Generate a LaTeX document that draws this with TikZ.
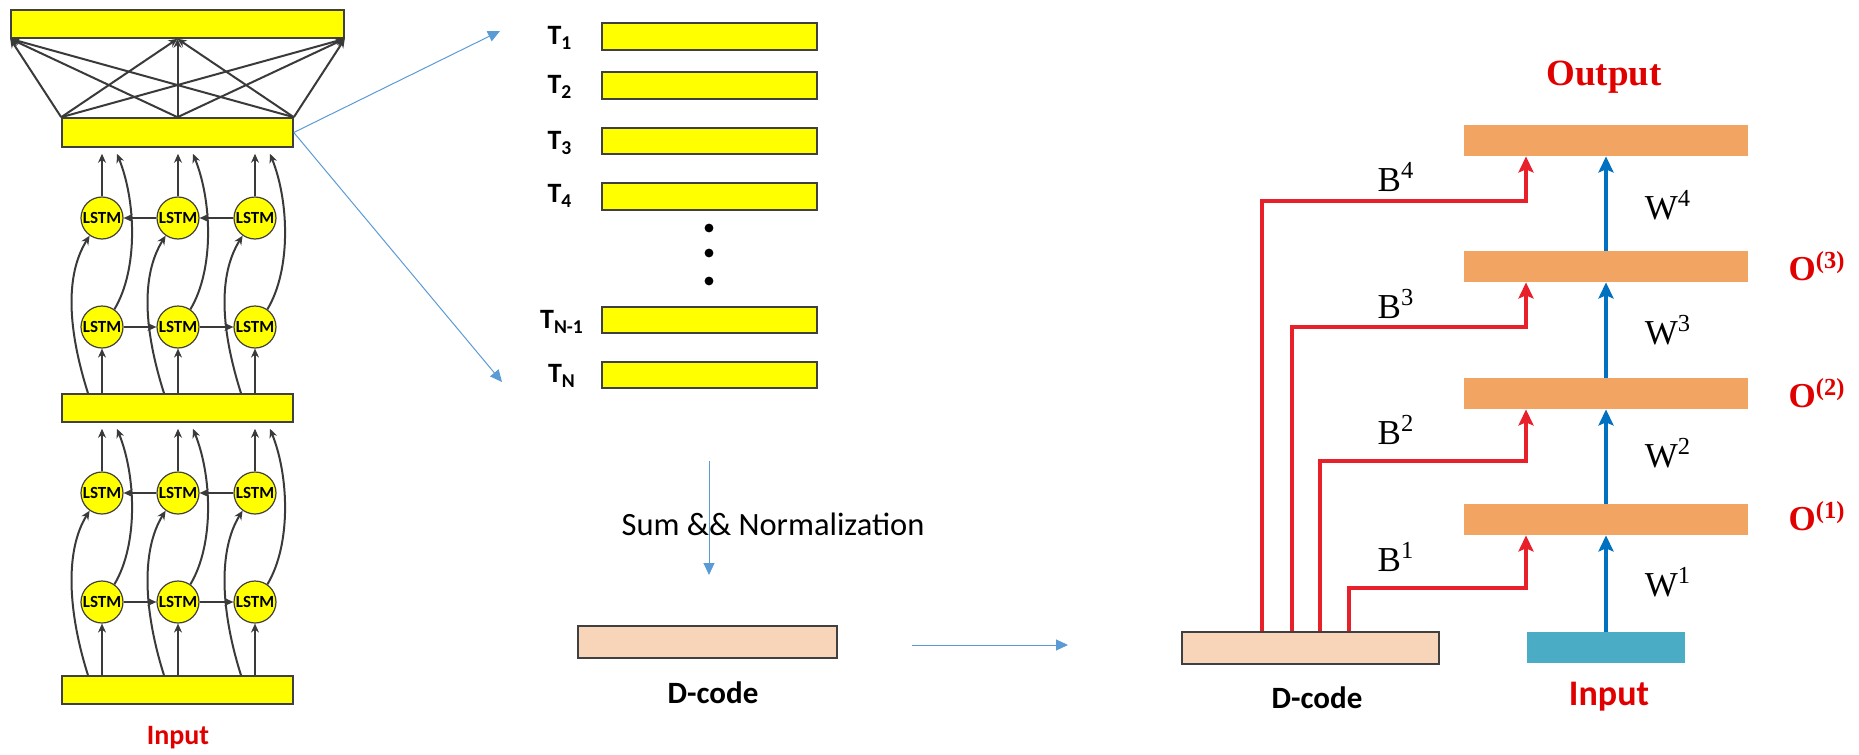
\documentclass[tikz,border=0pt]{standalone}
\usepackage{fontspec}
\setmainfont{Carlito}
\newfontfamily\tnr{Liberation Serif}
\usetikzlibrary{arrows.meta,fit,calc}
\definecolor{ybar}{HTML}{FFFF00}
\definecolor{bord}{HTML}{404040}
\definecolor{garrc}{HTML}{3A3A3A}
\definecolor{peach}{HTML}{F8D5B8}
\definecolor{orng}{HTML}{F2A463}
\definecolor{teal}{HTML}{4BACC6}
\definecolor{lblue}{HTML}{5B9BD5}
\definecolor{dblue}{HTML}{0070C0}
\definecolor{rline}{HTML}{E8202A}
\definecolor{rtext}{HTML}{E00000}
\begin{document}
\begin{tikzpicture}[x=0.5pt,y=-0.5pt,
  ybox/.style={draw=bord,line width=0.8pt,fill=ybar,inner sep=0pt},
  pbox/.style={draw=bord,line width=0.8pt,fill=peach,inner sep=0pt},
  obox/.style={fill=orng,inner sep=0pt},
  tbox/.style={fill=teal,inner sep=0pt},
  lstm/.style={circle,draw=bord,line width=0.6pt,fill=ybar,minimum size=21pt,inner sep=0pt,font=\fontsize{8.5}{8.5}\selectfont\bfseries},
  garr/.style={draw=garrc,line width=1pt,-{Stealth[length=4.5pt,width=4pt]}},
  barr/.style={draw=lblue,line width=0.5pt,-{Triangle[length=6pt,width=5.5pt]}},
  rarr/.style={draw=rline,line width=2pt,-{Stealth[length=8pt,width=7.5pt,inset=1.5pt]}},
  darr/.style={draw=dblue,line width=2pt,-{Stealth[length=8pt,width=7.5pt,inset=1.5pt]}},
  tlab/.style={font=\fontsize{14}{16}\selectfont\bfseries},
  wlab/.style={font=\fontsize{17.5}{20}\selectfont\tnr},
  olab/.style={font=\fontsize{17.5}{20}\selectfont\tnr\bfseries,text=rtext},
  dlab/.style={font=\fontsize{15.5}{18}\selectfont\bfseries}]
\useasboundingbox (0,0) rectangle (1859,755);

% ---------------- left network ----------------
\node[ybox,fit={(11,10)(344,38)}] (top) {};
\node[ybox,fit={(62,118)(293,147)}] (b2) {};
\node[ybox,fit={(62,394)(293,422)}] (b3) {};
\node[ybox,fit={(62,676)(293,704)}] (b4) {};

\foreach \r/\y in {1/218,2/327,3/493,4/602}{
  \foreach \c/\x in {1/102,2/178,3/255}{
    \node[lstm] (L\r\c) at (\x,\y) {LSTM};
  }
}

\foreach \a in {north west,north,north east}{
  \foreach \b in {south west,south,south east}{
    \draw[garr] (b2.\a) -- (top.\b);
  }
}

\foreach \lo/\up/\bl/\bh in {2/1/b3/b2,4/3/b4/b3}{
  \foreach \c in {1,2,3}{
    \draw[garr] (L\lo\c |- \bl.north) -- (L\lo\c.south);
    \draw[garr] (L\up\c.north) -- ($(L\up\c |- \bh.south)+(0,-3pt)$);
    \draw[garr] ($(L\lo\c |- \bl.north)+(-7pt,0)$) .. controls +(-10pt,31.5pt) and +(-12.5pt,-20pt) .. (L\up\c.235);
    \draw[garr] (L\lo\c.55) .. controls +(12pt,20pt) and +(9.5pt,-23.5pt) .. ($(L\lo\c |- \bh.south)+(7.5pt,-3pt)$);
  }
  \draw[garr] (L\up3.west) -- (L\up2.east);
  \draw[garr] (L\up2.west) -- (L\up1.east);
  \draw[garr] (L\lo1.east) -- (L\lo2.west);
  \draw[garr] (L\lo2.east) -- (L\lo3.west);
}

\node[font=\fontsize{14}{16}\selectfont\bfseries,text=rtext] (inl) at (178,738) {Input};

% ---------------- middle ----------------
\node[ybox,fit={(602,23)(817,50)}] (t1) {};
\node[ybox,fit={(602,72)(817,99)}] (t2) {};
\node[ybox,fit={(602,128)(817,154)}] (t3) {};
\node[ybox,fit={(602,183)(817,210)}] (t4) {};
\node[ybox,fit={(602,307)(817,333)}] (tn1) {};
\node[ybox,fit={(602,362)(817,388)}] (tn) {};

\node[tlab] (lt1) at (560,38) {T\textsubscript{1}};
\node[tlab] (lt2) at (560,87) {T\textsubscript{2}};
\node[tlab] (lt3) at (560,143) {T\textsubscript{3}};
\node[tlab] (lt4) at (560,196) {T\textsubscript{4}};
\node[tlab] (ltn1) at (562,322) {T\textsubscript{N-1}};
\node[tlab] (ltn) at (562,376) {T\textsubscript{N}};

\foreach \y [count=\i] in {228,253,281}{
  \fill (709,\y) circle (2.2pt) coordinate (dot\i);
}

\coordinate (e1) at (500,31);
\coordinate (e2) at (502,382);
\draw[barr] (b2.east) -- (e1);
\draw[barr] (b2.east) -- (e2);

\coordinate (s0) at (709,461);
\coordinate (s1) at (709,575);
\draw[barr] (s0) -- (s1);
\node[font=\fontsize{16.25}{19}\selectfont] (sum) at (773,524) {Sum \&\& Normalization};

\node[pbox,fit={(578,626)(837,658)}] (dc1) {};
\node[dlab] (dcl1) at (713,693) {D-code};

\coordinate (h0) at (912,645);
\coordinate (h1) at (1068,645);
\draw[barr] (h0) -- (h1);

% ---------------- right ----------------
\node[obox,fit={(1464,125)(1748,156)}] (o4) {};
\node[obox,fit={(1464,251)(1748,282)}] (o3) {};
\node[obox,fit={(1464,378)(1748,409)}] (o2) {};
\node[obox,fit={(1464,504)(1748,535)}] (o1) {};
\node[tbox,fit={(1527,632)(1685,663)}] (inp) {};
\node[pbox,fit={(1182,632)(1439,664)}] (dc2) {};

\node[olab,font=\fontsize{18.5}{21}\selectfont\tnr\bfseries] (outl) at (1604,77) {Output};
\node[font=\fontsize{18}{20}\selectfont\bfseries,text=rtext] (inr) at (1609,697) {Input};
\node[dlab] (dcl2) at (1317,698) {D-code};

\draw[darr] (1606,0 |- inp.north) -- (1606,0 |- o1.south);
\draw[darr] (1606,0 |- o1.north) -- (1606,0 |- o2.south);
\draw[darr] (1606,0 |- o2.north) -- (1606,0 |- o3.south);
\draw[darr] (1606,0 |- o3.north) -- (1606,0 |- o4.south);

\draw[rarr] (1262,0 |- dc2.north) -- (1262,201) -| (1526,0 |- o4.south);
\draw[rarr] (1292,0 |- dc2.north) -- (1292,327) -| (1526,0 |- o3.south);
\draw[rarr] (1320,0 |- dc2.north) -- (1320,461) -| (1526,0 |- o2.south);
\draw[rarr] (1349,0 |- dc2.north) -- (1349,588) -| (1526,0 |- o1.south);

\node[wlab] (bl4) at (1396,177) {B\textsuperscript{4}};
\node[wlab] (bl3) at (1396,304) {B\textsuperscript{3}};
\node[wlab] (bl2) at (1396,430) {B\textsuperscript{2}};
\node[wlab] (bl1) at (1396,557) {B\textsuperscript{1}};

\node[wlab] (wl4) at (1668,205) {W\textsuperscript{4}};
\node[wlab] (wl3) at (1668,330) {W\textsuperscript{3}};
\node[wlab] (wl2) at (1668,453) {W\textsuperscript{2}};
\node[wlab] (wl1) at (1668,582) {W\textsuperscript{1}};

\node[olab] (ol3) at (1817,266) {O\textsuperscript{(3)}};
\node[olab] (ol2) at (1817,393) {O\textsuperscript{(2)}};
\node[olab] (ol1) at (1817,516) {O\textsuperscript{(1)}};
\end{tikzpicture}
\end{document}
